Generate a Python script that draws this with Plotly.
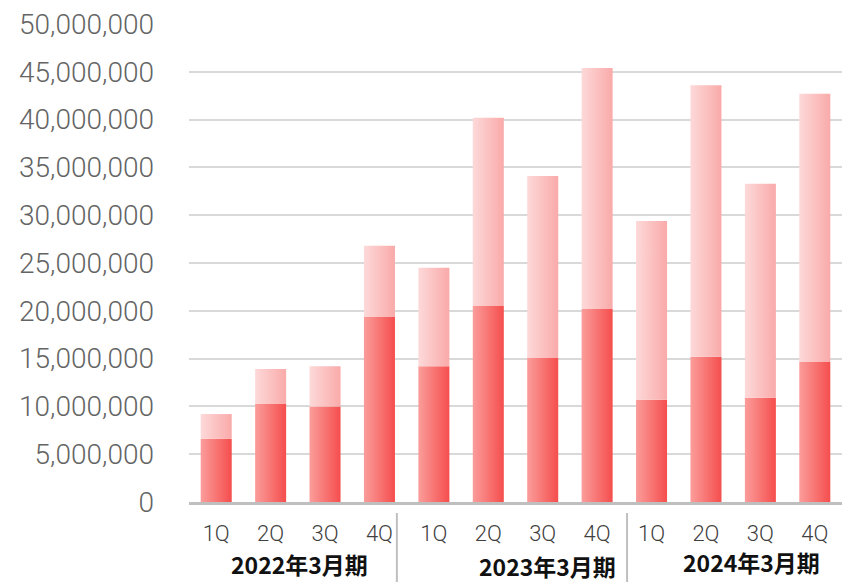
import plotly.graph_objects as go

# Quarterly figures, stacked in two segments per quarter
quarters = ["1Q", "2Q", "3Q", "4Q", "1Q", "2Q", "3Q", "4Q", "1Q", "2Q", "3Q", "4Q"]
periods = ["2022年3月期", "2023年3月期", "2024年3月期"]
lower_values = [6600000, 10250000, 10000000, 19350000,
                14200000, 20500000, 15050000, 20200000,
                10700000, 15200000, 10900000, 14650000]
upper_values = [2600000, 3650000, 4200000, 7450000,
                10300000, 19700000, 19050000, 25200000,
                18700000, 28400000, 22400000, 28050000]
y_ticks = [0, 5000000, 10000000, 15000000, 20000000, 25000000,
           30000000, 35000000, 40000000, 45000000, 50000000]

BAR_WIDTH = 0.57
LOWER_GRAD = [[0, "#FA9D9B"], [1, "#F54E4D"]]
UPPER_GRAD = [[0, "#FDD9D9"], [1, "#F9AAA9"]]


def bar_shape(i, base, height, scale):
    """A single bar segment drawn as a filled polygon with a horizontal gradient."""
    x0, x1 = i - BAR_WIDTH / 2, i + BAR_WIDTH / 2
    return go.Scatter(
        x=[x0, x1, x1, x0, x0],
        y=[base, base, base + height, base + height, base],
        mode="lines",
        line=dict(width=0),
        fill="toself",
        fillgradient=dict(type="horizontal", colorscale=scale, start=x0, stop=x1),
        hoverinfo="skip",
        showlegend=False,
    )


fig = go.Figure()
for i, (lo, up) in enumerate(zip(lower_values, upper_values)):
    fig.add_trace(bar_shape(i, 0, lo, LOWER_GRAD))
    fig.add_trace(bar_shape(i, lo, up, UPPER_GRAD))

fig.update_layout(
    width=848,
    height=582,
    margin=dict(l=189, r=6, t=24, b=80),
    paper_bgcolor="white",
    plot_bgcolor="white",
    showlegend=False,
    xaxis=dict(
        range=[-0.5, len(quarters) - 0.5],
        tickmode="array",
        tickvals=list(range(len(quarters))),
        ticktext=quarters,
        showgrid=False,
        zeroline=False,
        showline=True,
        linecolor="#BFBFBF",
        linewidth=3,
        ticks="",
        ticklabelstandoff=10,
        tickfont=dict(family="Roboto", size=22, color="#404040", weight=300),
        fixedrange=True,
    ),
    yaxis=dict(
        range=[0, 50000000],
        tickmode="array",
        tickvals=y_ticks,
        tickformat=",d",
        showgrid=True,
        gridcolor="#D9D9D9",
        gridwidth=2,
        zeroline=False,
        showline=False,
        ticks="",
        ticklabelstandoff=34,
        tickfont=dict(family="Roboto", size=28, color="#646464", weight=300),
        fixedrange=True,
    ),
)

# Fiscal-period group labels under the quarter labels
group_x = [1.53, 6.09, 9.83]
group_y = [-0.129, -0.134, -0.126]
for label, gx, gy in zip(periods, group_x, group_y):
    fig.add_annotation(
        x=gx, y=gy, xref="x", yref="paper",
        text=label, showarrow=False,
        xanchor="center", yanchor="middle",
        font=dict(family="Noto Sans CJK JP", size=23, color="#111111", weight="bold"),
    )

# Vertical dividers between fiscal periods
for sx in [3.32, 7.55]:
    fig.add_shape(
        type="line", xref="x", yref="paper",
        x0=sx, x1=sx, y0=-0.023, y1=-0.17,
        line=dict(color="#BFBFBF", width=2),
    )

fig.write_html("out.html")
